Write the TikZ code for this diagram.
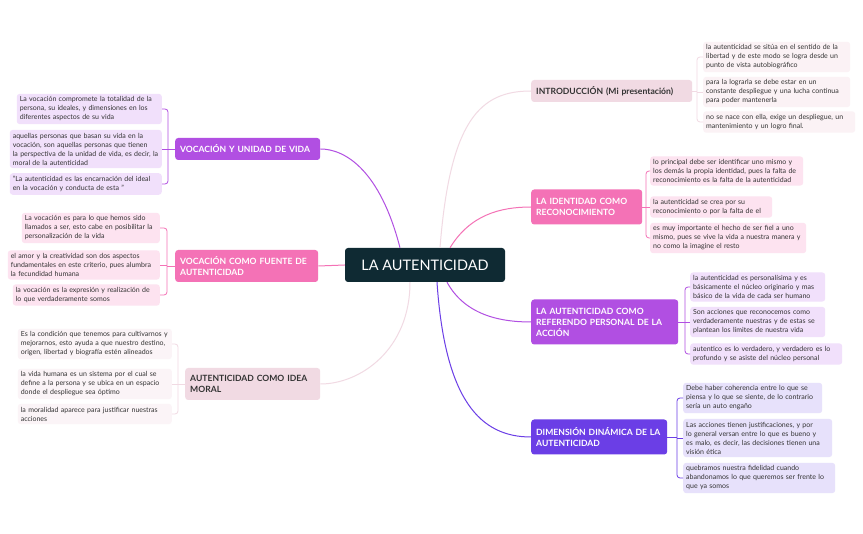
\documentclass[tikz,border=0pt]{standalone}
\usepackage{fontspec}
\setmainfont{Lato}
\hyphenpenalty=10000
\exhyphenpenalty=10000
\begin{document}
\begin{tikzpicture}[x=1pt,y=-1pt,
  leaf/.style={fill=#1,rounded corners=3pt,inner sep=3pt,align=left,anchor=west,font=\fontsize{7}{9}\selectfont,text=black!80},
  mainn/.style={fill=#1,rounded corners=3pt,inner sep=5pt,align=left,anchor=west,font=\bfseries\fontsize{8.6}{11}\selectfont,text=white},
  br/.style={draw=#1,line width=0.8pt,rounded corners=3pt},
  cn/.style={draw=#1,line width=1pt}]
\definecolor{cdark}{HTML}{0F2A33}
\definecolor{cpinkL}{HTML}{F1DAE3}
\definecolor{cpink}{HTML}{F472B6}
\definecolor{cpurp}{HTML}{B14FE2}
\definecolor{cviol}{HTML}{6B3EE6}
\definecolor{lintro}{HTML}{FBF2F5}
\definecolor{lpink}{HTML}{FDE3F0}
\definecolor{lpurp}{HTML}{F1E0FB}
\definecolor{lviol}{HTML}{E7E1FB}
\definecolor{lmoral}{HTML}{FBF4F7}
\useasboundingbox (0,0) rectangle (863,534);
\fill[white] (0,0) rectangle (863,534);

\node[fill=cdark,rounded corners=3pt,minimum width=160,minimum height=34,text=white,font=\fontsize{14.5}{16}\selectfont] (c) at (425,265) {LA AUTENTICIDAD};

% main nodes
\node[mainn=cpinkL,text=black!80,minimum height=22,text width=151] (m1) at (531,91) {INTRODUCCIÓN (Mi presentación)};
\node[mainn=cpink,minimum height=35,text width=101] (m2) at (531,207) {LA IDENTIDAD COMO RECONOCIMIENTO};
\node[mainn=cpurp,minimum height=45,text width=137] (m3) at (531,322) {LA AUTENTICIDAD COMO REFERENDO PERSONAL DE LA ACCIÓN};
\node[mainn=cviol,minimum height=35,text width=126] (m4) at (531,437) {DIMENSIÓN DINÁMICA DE LA AUTENTICIDAD};
\node[mainn=cpurp,minimum height=22,text width=135] (m5) at (175,149) {VOCACIÓN Y UNIDAD DE VIDA};
\node[mainn=cpink,minimum height=32,text width=133] (m6) at (175,266) {VOCACIÓN COMO FUENTE DE AUTENTICIDAD};
\node[mainn=cpinkL,text=black!80,minimum height=32,text width=125] (m7) at (185,384) {AUTENTICIDAD COMO IDEA MORAL};

% center connectors
\draw[cn=cpinkL] (c.north) ++(15,0) coordinate (a1) (a1) .. controls (450,120) and (480,91) .. (m1.west);
\draw[cn=cpink] (c.north) ++(25,0) coordinate (a2) (a2) .. controls (470,215) and (500,207) .. (m2.west);
\draw[cn=cpurp] (c.south) ++(22,0) coordinate (a3) (a3) .. controls (465,315) and (500,322) .. (m3.west);
\draw[cn=cviol] (c.south) ++(12,0) coordinate (a4) (a4) .. controls (445,400) and (480,437) .. (m4.west);
\draw[cn=cpurp] (c.north) ++(-25,0) coordinate (a5) (a5) .. controls (380,170) and (345,149) .. (m5.east);
\draw[cn=cpink] (c.west) -- (m6.east);
\draw[cn=cpinkL] (c.south) ++(-15,0) coordinate (a7) (a7) .. controls (410,350) and (360,384) .. (m7.east);

% intro leaves
\node[leaf=lintro,text width=141] (l11) at (703,57) {la autenticidad se sitúa en el sentido de la libertad y de este modo se logra desde un punto de vista autobiográfico};
\node[leaf=lintro,text width=141] (l12) at (703,92) {para la lograrla se debe estar en un constante despliegue y una lucha continua para poder mantenerla};
\node[leaf=lintro,text width=146] (l13) at (703,122) {no se nace con ella, exige un despliegue, un mantenimiento y un logro final.};
\draw[br=cpinkL] (m1.east) -- (697,91);
\draw[br=cpinkL] (l11.west) -- (697,57) -- (697,122) -- (l13.west);
\draw[br=cpinkL] (697,92) -- (l12.west);

% identidad leaves
\node[leaf=lpink,text width=147] (l21) at (650,171) {lo principal debe ser identificar uno mismo y los demás la propia identidad, pues la falta de reconocimiento es la falta de la autenticidad};
\node[leaf=lpink,text width=116] (l22) at (650,207) {la autenticidad se crea por su reconocimiento o por la falta de el};
\node[leaf=lpink,text width=150] (l23) at (650,238) {es muy importante el hecho de ser fiel a uno mismo, pues se vive la vida a nuestra manera y no como la imagine el resto};
\draw[br=cpink] (m2.east) -- (646,207);
\draw[br=cpink] (l21.west) -- (646,171) -- (646,238) -- (l23.west);
\draw[br=cpink] (646,207) -- (l22.west);

% referendo leaves
\node[leaf=lpurp,text width=129] (l31) at (690,287) {la autenticidad es personalísima y es básicamente el núcleo originario y mas básico de la vida de cada ser humano};
\node[leaf=lpurp,text width=129] (l32) at (690,322) {Son acciones que reconocemos como verdaderamente nuestras y de estas se plantean los límites de nuestra vida};
\node[leaf=lpurp,text width=146] (l33) at (690,354) {autentico es lo verdadero, y verdadero es lo profundo y se asiste del núcleo personal};
\draw[br=cpurp] (m3.east) -- (685,322);
\draw[br=cpurp] (l31.west) -- (685,287) -- (685,354) -- (l33.west);
\draw[br=cpurp] (685,322) -- (l32.west);

% dimension leaves
\node[leaf=lviol,text width=133] (l41) at (683,398) {Debe haber coherencia entre lo que se piensa y lo que se siente, de lo contrario sería un auto engaño};
\node[leaf=lviol,text width=143] (l42) at (683,438) {Las acciones tienen justificaciones, y por lo general versan entre lo que es bueno y es malo, es decir, las decisiones tienen una visión ética};
\node[leaf=lviol,text width=146] (l43) at (683,478) {quebramos nuestra fidelidad cuando abandonamos lo que queremos ser frente lo que ya somos};
\draw[br=cviol] (m4.east) -- (677,437);
\draw[br=cviol] (l41.west) -- (677,398) -- (677,478) -- (l43.west);
\draw[br=cviol] (677,438) -- (l42.west);

% vocacion unidad leaves
\node[leaf=lpurp,text width=139,anchor=east] (l51) at (162,109) {La vocación compromete la totalidad de la persona, su ideales, y dimensiones en los diferentes aspectos de su vida};
\node[leaf=lpurp,text width=146,anchor=east] (l52) at (162,149) {aquellas personas que basan su vida en la vocación, son aquellas personas que tienen la perspectiva de la unidad de vida, es decir, la moral de la autenticidad};
\node[leaf=lpurp,text width=146,anchor=east] (l53) at (162,184) {"La autenticidad es las encarnación del ideal en la vocación y conducta de esta "};
\draw[br=cpurp] (m5.west) -- (168,149);
\draw[br=cpurp] (l51.east) -- (168,109) -- (168,184) -- (l53.east);
\draw[br=cpurp] (168,149) -- (l52.east);

% fuente leaves
\node[leaf=lpink,text width=132,anchor=east] (l61) at (160,228) {La vocación es para lo que hemos sido llamados a ser, esto cabe en posibilitar la personalización de la vida};
\node[leaf=lpink,text width=146,anchor=east] (l62) at (160,265) {el amor y la creatividad son dos aspectos fundamentales en este criterio, pues alumbra la fecundidad humana};
\node[leaf=lpink,text width=141,anchor=east] (l63) at (160,295) {la vocación es la expresión y realización de lo que verdaderamente somos};
\draw[br=cpink] (m6.west) -- (167,266);
\draw[br=cpink] (l61.east) -- (167,228) -- (167,295) -- (l63.east);
\draw[br=cpink] (167,265) -- (l62.east);

% moral leaves
\node[leaf=lmoral,text width=148,anchor=east] (l71) at (172,344) {Es la condición que tenemos para cultivarnos y mejorarnos, esto ayuda a que nuestro destino, origen, libertad y biografía estén alineados};
\node[leaf=lmoral,text width=148,anchor=east] (l72) at (172,384) {la vida humana es un sistema por el cual se define a la persona y se ubica en un espacio donde el despliegue sea óptimo};
\node[leaf=lmoral,text width=148,anchor=east] (l73) at (172,414) {la moralidad aparece para justificar nuestras acciones};
\draw[br=cpinkL] (m7.west) -- (178,384);
\draw[br=cpinkL] (l71.east) -- (178,344) -- (178,414) -- (l73.east);
\draw[br=cpinkL] (178,384) -- (l72.east);
\end{tikzpicture}
\end{document}
